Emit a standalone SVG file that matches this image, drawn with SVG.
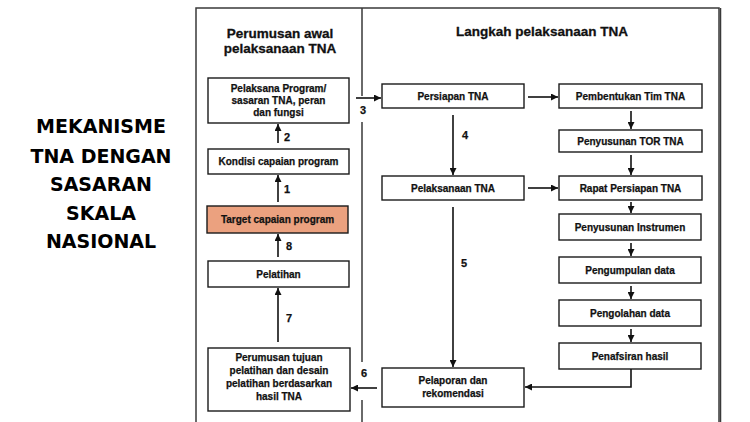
<svg xmlns="http://www.w3.org/2000/svg" width="750" height="422" viewBox="0 0 750 422">
<style>
.box{fill:#fff;stroke:#1a1a1a;stroke-width:1.4}
.t{font-family:"Liberation Sans",Arial,sans-serif;font-weight:bold;font-size:10px;fill:#111;stroke:#111;stroke-width:0.25;text-anchor:middle}
.h{font-family:"Liberation Sans",Arial,sans-serif;font-weight:bold;font-size:13.5px;fill:#111;stroke:#111;stroke-width:0.3;text-anchor:middle}
.n{font-family:"Liberation Sans",Arial,sans-serif;font-weight:bold;font-size:11px;fill:#111;stroke:#111;stroke-width:0.25;text-anchor:middle}
.big{font-family:"DejaVu Sans",sans-serif;font-weight:bold;font-size:19px;fill:#000;text-anchor:middle}
.c{fill:none;stroke:#111;stroke-width:1.6}
.frame{fill:none;stroke:#3a3a3a;stroke-width:1.5}
</style>
<defs>
<marker id="ah" markerUnits="userSpaceOnUse" markerWidth="7" markerHeight="7" viewBox="0 0 7 7" refX="7" refY="3.5" orient="auto">
<path d="M0,0 L7,3.5 L0,7 z" fill="#111"/>
</marker>
</defs>
<rect width="750" height="422" fill="#fff"/>
<g id="title">
<text class="big" x="101" y="133">MEKANISME</text>
<text class="big" x="101" y="163">TNA DENGAN</text>
<text class="big" x="101" y="191">SASARAN</text>
<text class="big" x="101" y="220">SKALA</text>
<text class="big" x="101" y="248">NASIONAL</text>
</g>
<g id="frame">
<path class="frame" d="M196,430 V8 H719 V430"/>
<path d="M720.5,8 V430" stroke="#3a3a3a" stroke-width="1.5"/>
<path class="frame" d="M362,8 V96 M362,122 V362 M362,400 V430"/>
<text class="h" x="280" y="38">Perumusan awal</text>
<text class="h" x="280" y="53">pelaksanaan TNA</text>
<text class="h" x="542" y="36">Langkah pelaksanaan TNA</text>
</g>
<g id="pelaksana-program">
<rect class="box" x="208" y="78" width="141" height="45"/>
<text class="t" x="278.5" y="92">Pelaksana Program/</text>
<text class="t" x="278.5" y="104">sasaran TNA, peran</text>
<text class="t" x="278.5" y="116">dan fungsi</text>
</g>
<g id="kondisi">
<rect class="box" x="208" y="149" width="141" height="25"/>
<text class="t" x="278.5" y="165">Kondisi capaian program</text>
</g>
<g id="target">
<rect class="box" x="207" y="206" width="141" height="27" style="fill:#eba17f"/>
<text class="t" x="277.5" y="223">Target capaian program</text>
</g>
<g id="pelatihan">
<rect class="box" x="208" y="261" width="141" height="26"/>
<text class="t" x="278.5" y="277.5">Pelatihan</text>
</g>
<g id="perumusan-tujuan">
<rect class="box" x="208" y="348" width="142" height="63"/>
<text class="t" x="279" y="361">Perumusan  tujuan</text>
<text class="t" x="279" y="374">pelatihan dan desain</text>
<text class="t" x="279" y="387">pelatihan berdasarkan</text>
<text class="t" x="279" y="400">hasil TNA</text>
</g>
<g id="persiapan">
<rect class="box" x="382" y="84" width="142" height="24"/>
<text class="t" x="453" y="99.5">Persiapan TNA</text>
</g>
<g id="pelaksanaan">
<rect class="box" x="382" y="176" width="142" height="24"/>
<text class="t" x="453" y="191.5">Pelaksanaan  TNA</text>
</g>
<g id="pelaporan">
<rect class="box" x="382" y="368" width="142" height="39"/>
<text class="t" x="453" y="384">Pelaporan dan</text>
<text class="t" x="453" y="397">rekomendasi</text>
</g>
<g id="pembentukan">
<rect class="box" x="559" y="84" width="143" height="24"/>
<text class="t" x="630.5" y="99.5">Pembentukan Tim TNA</text>
</g>
<g id="tor">
<rect class="box" x="559" y="130" width="143" height="22"/>
<text class="t" x="630.5" y="144.5">Penyusunan TOR TNA</text>
</g>
<g id="rapat">
<rect class="box" x="559" y="176" width="143" height="24"/>
<text class="t" x="630.5" y="191.5">Rapat Persiapan TNA</text>
</g>
<g id="instrumen">
<rect class="box" x="559" y="214" width="142" height="26"/>
<text class="t" x="630" y="230.5">Penyusunan Instrumen</text>
</g>
<g id="pengumpulan">
<rect class="box" x="559" y="257" width="142" height="26"/>
<text class="t" x="630" y="273.5">Pengumpulan data</text>
</g>
<g id="pengolahan">
<rect class="box" x="559" y="300" width="142" height="26"/>
<text class="t" x="630" y="316.5">Pengolahan data</text>
</g>
<g id="penafsiran">
<rect class="box" x="559" y="343" width="142" height="26"/>
<text class="t" x="630" y="359.5">Penafsiran hasil</text>
</g>
<g id="connectors">
<path class="c" marker-end="url(#ah)" d="M278,143 V124"/>
<path class="c" marker-end="url(#ah)" d="M278,202 V175"/>
<path class="c" marker-end="url(#ah)" d="M278,257 V234"/>
<path class="c" marker-end="url(#ah)" d="M278,342 V288"/>
<path class="c" marker-end="url(#ah)" d="M356,98 H381"/>
<path class="c" marker-end="url(#ah)" d="M377,388 H351"/>
<path class="c" marker-end="url(#ah)" d="M528,97 H558"/>
<path class="c" marker-end="url(#ah)" d="M453,115 V175"/>
<path class="c" marker-end="url(#ah)" d="M528,188 H558"/>
<path class="c" marker-end="url(#ah)" d="M453,207 V367"/>
<path class="c" marker-end="url(#ah)" d="M631,111 V129"/>
<path class="c" marker-end="url(#ah)" d="M631,155 V175"/>
<path class="c" marker-end="url(#ah)" d="M631,202 V213"/>
<path class="c" marker-end="url(#ah)" d="M631,243 V256"/>
<path class="c" marker-end="url(#ah)" d="M631,286 V299"/>
<path class="c" marker-end="url(#ah)" d="M631,329 V342"/>
<path class="c" marker-end="url(#ah)" d="M631,369 V387 H525"/>
<text class="n" x="287" y="141">2</text>
<text class="n" x="287" y="193">1</text>
<text class="n" x="363" y="114">3</text>
<text class="n" x="289" y="250">8</text>
<text class="n" x="289" y="322">7</text>
<text class="n" x="364" y="377">6</text>
<text class="n" x="465" y="139">4</text>
<text class="n" x="464" y="267">5</text>
</g>
</svg>
